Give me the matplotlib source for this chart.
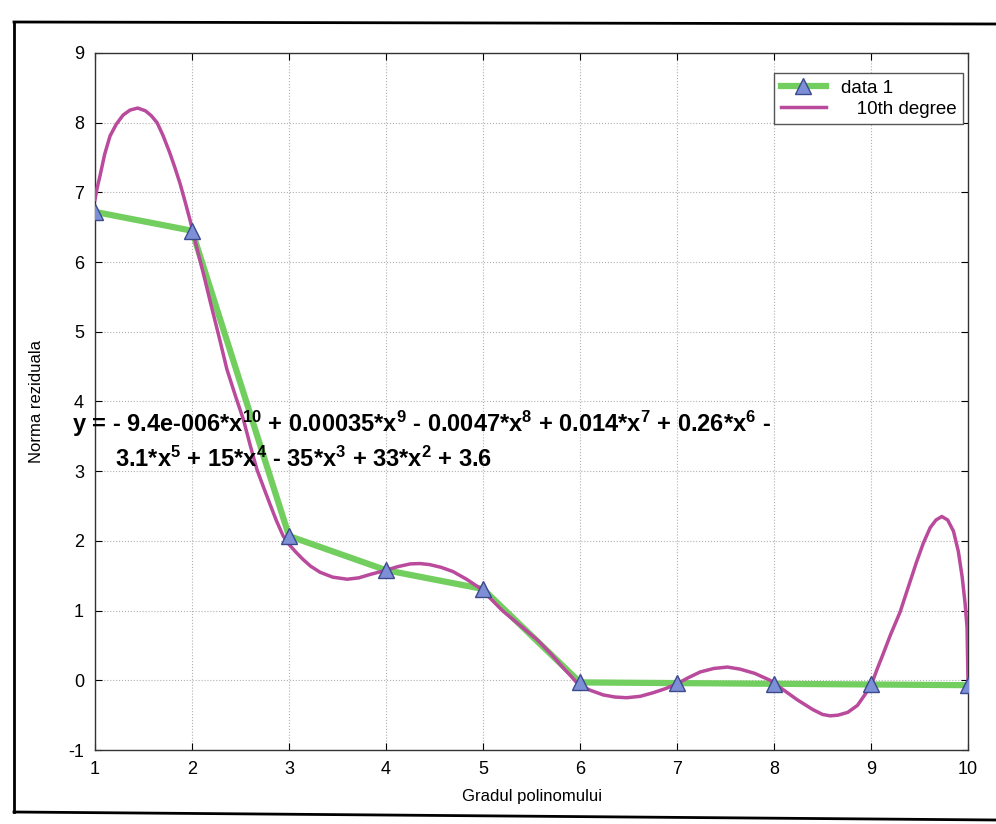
import numpy as np
import matplotlib
matplotlib.use("Agg")
import matplotlib.pyplot as plt
from matplotlib.lines import Line2D

plt.rcParams["font.family"] = ["Liberation Sans", "DejaVu Sans"]
plt.rcParams["mathtext.fontset"] = "custom"
plt.rcParams["mathtext.rm"] = "Liberation Sans:bold"
plt.rcParams["mathtext.it"] = "Liberation Sans:bold"
plt.rcParams["mathtext.bf"] = "Liberation Sans:bold"
plt.rcParams["axes.unicode_minus"] = False

# ------------------------------------------------------------
# data
# ------------------------------------------------------------
degree = [1, 2, 3, 4, 5, 6, 7, 8, 9, 10]
resid_norm = [6.72, 6.45, 2.07, 1.58, 1.31, -0.03, -0.04, -0.05, -0.06, -0.07]

# 10th degree fit curve
fit_x = [1.0, 1.02, 1.05, 1.1, 1.155, 1.22, 1.29, 1.36, 1.44, 1.52,
         1.58, 1.64, 1.7, 1.77, 1.82, 1.876, 1.93, 1.98, 2.05, 2.12,
         2.19, 2.28, 2.36, 2.45, 2.53, 2.6, 2.67, 2.74, 2.8, 2.87,
         2.94, 3.0, 3.07, 3.14, 3.22, 3.32, 3.45, 3.6, 3.72, 3.84,
         4.0, 4.12, 4.25, 4.35, 4.45, 4.57, 4.69, 4.83, 4.97, 5.08,
         5.2, 5.38, 5.56, 5.7, 5.82, 5.9, 5.97, 6.1, 6.24, 6.36,
         6.48, 6.62, 6.75, 6.88, 7.0, 7.12, 7.24, 7.38, 7.52, 7.65,
         7.8, 7.96, 8.1, 8.24, 8.4, 8.5, 8.58, 8.66, 8.76, 8.86,
         8.94, 9.01, 9.06, 9.12, 9.2, 9.3, 9.38, 9.47, 9.54, 9.61,
         9.67, 9.73, 9.79, 9.85, 9.9, 9.94, 9.97, 9.99, 10.0]
fit_y = [6.9, 7.05, 7.23, 7.55, 7.81, 7.98, 8.11, 8.18, 8.21, 8.17,
         8.1, 8.0, 7.82, 7.57, 7.37, 7.13, 6.86, 6.6, 6.2, 5.82,
         5.42, 4.92, 4.46, 4.07, 3.74, 3.37, 3.02, 2.76, 2.54, 2.29,
         2.07, 1.95, 1.84, 1.74, 1.64, 1.55, 1.48, 1.45, 1.47, 1.52,
         1.58, 1.63, 1.67, 1.675, 1.66, 1.62, 1.56, 1.45, 1.32, 1.17,
         1.0, 0.79, 0.58, 0.38, 0.19, 0.07, -0.04, -0.14, -0.21, -0.24,
         -0.25, -0.23, -0.18, -0.12, -0.05, 0.04, 0.12, 0.17, 0.19, 0.16,
         0.1, 0.0, -0.14, -0.28, -0.42, -0.49, -0.51, -0.5, -0.46, -0.36,
         -0.2, -0.04, 0.15, 0.36, 0.65, 0.98, 1.32, 1.70, 1.97, 2.19,
         2.3, 2.35, 2.3, 2.14, 1.85, 1.48, 1.1, 0.76, -0.02]

xticks = list(range(1, 11))
yticks = list(range(-1, 10))

eq_line1 = ("y = - 9.4e-006*x$^{10}$ + 0.00035*x$^{9}$ - 0.0047*x$^{8}$"
            " + 0.014*x$^{7}$ + 0.26*x$^{6}$ -")
eq_line2 = "3.1*x$^{5}$ + 15*x$^{4}$ - 35*x$^{3}$ + 33*x$^{2}$ + 3.6"

GREEN = "#72cf5f"
PINK = "#b94a9c"
TRI_FACE = "#7d8fd6"
TRI_EDGE = "#3c4a8c"

# ------------------------------------------------------------
# figure
# ------------------------------------------------------------
fig = plt.figure(figsize=(9.96, 8.24), dpi=100)
ax = fig.add_axes([0.0954, 0.0898, 0.8765, 0.8459])

ax.plot(degree, resid_norm, "-", color=GREEN, lw=4.5, zorder=2)
ax.plot(fit_x, fit_y, "-", color=PINK, lw=2.5, zorder=3,
        solid_joinstyle="round")
ax.plot(degree, resid_norm, "^", ms=12, mfc=TRI_FACE, mec=TRI_EDGE,
        mew=1.0, ls="none", zorder=4)

ax.set_xlim(1, 10)
ax.set_ylim(-1, 9)
ax.set_xticks(xticks)
ax.set_yticks(yticks)
ax.tick_params(direction="in", top=True, right=True, length=5,
               labelsize=13, pad=8)
ax.grid(True, ls=":", color="#b0b0b0", lw=0.8)
for s in ax.spines.values():
    s.set_linewidth(1.0)
    s.set_color("#333333")

ax.set_xlabel("Gradul polinomului", fontsize=12, labelpad=8)
ax.set_ylabel("Norma reziduala", fontsize=12)
ax.yaxis.set_label_coords(-0.058, 0.5)

handles = [
    Line2D([], [], color=GREEN, lw=4.5, marker="^", ms=12,
           mfc=TRI_FACE, mec=TRI_EDGE),
    Line2D([], [], color=PINK, lw=2.5),
]
leg = ax.legend(handles, ["data 1", "   10th degree"], loc="upper right",
                bbox_to_anchor=(963 / 996, 1 - 73 / 824),
                bbox_transform=fig.transFigure, borderaxespad=0,
                fontsize=13.5, fancybox=False, framealpha=1,
                edgecolor="#555555", handlelength=2.4,
                borderpad=0.35, labelspacing=0.2)
leg.get_frame().set_linewidth(1.0)

# fit equation
fig.text(72 / 996, 1 - 424 / 824, eq_line1, fontsize=17, fontweight="bold",
         va="center", ha="left", zorder=10)
fig.text(115 / 996, 1 - 459 / 824, eq_line2, fontsize=17, fontweight="bold",
         va="center", ha="left", zorder=10)

# figure border (scanned page frame)
for (x0, y0, x1, y1) in [(14, 22, 996, 24), (14, 22, 14, 812), (14, 812, 996, 820)]:
    fig.add_artist(Line2D([x0 / 996, x1 / 996], [1 - y0 / 824, 1 - y1 / 824],
                          color="black", lw=2.0, transform=fig.transFigure))

fig.savefig("out.png", dpi=100)
